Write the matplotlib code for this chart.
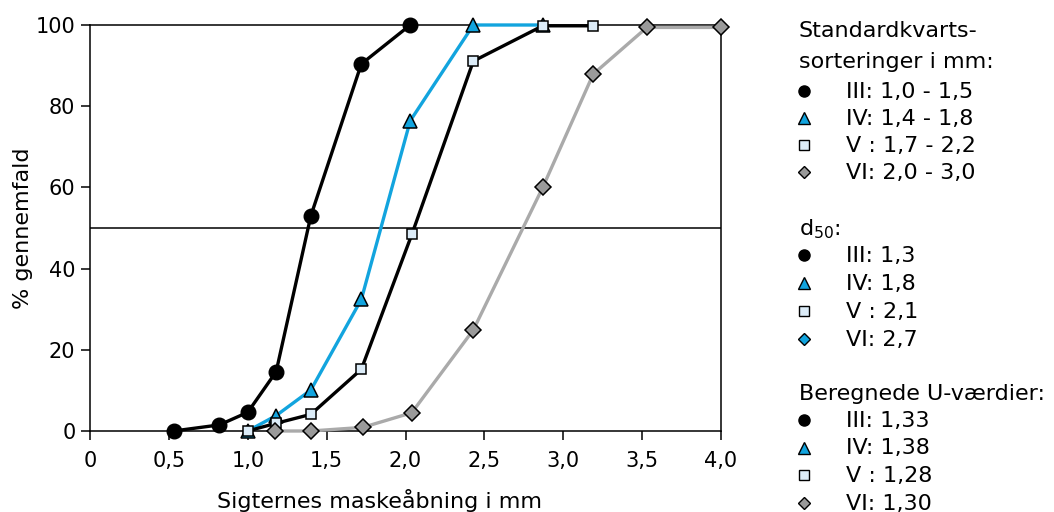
import matplotlib
matplotlib.use("Agg")
from matplotlib import pyplot as plt
from matplotlib.lines import Line2D

plt.rcParams['font.family'] = ['DejaVu Sans']
plt.rcParams['mathtext.fontset'] = 'dejavusans'

# sieve opening (mm) and % passing for each sorting
x_iii = [0.53, 0.82, 1.0, 1.18, 1.40, 1.72, 2.03]
y_iii = [0, 1.5, 4.6, 14.6, 53.0, 90.4, 100]

x_iv = [1.0, 1.18, 1.40, 1.72, 2.03, 2.43, 2.87]
y_iv = [0, 3.8, 10.1, 32.4, 76.4, 100, 100]

x_v = [1.0, 1.18, 1.40, 1.72, 2.04, 2.43, 2.87, 3.19]
y_v = [0, 1.9, 4.1, 15.2, 48.4, 91.1, 99.8, 99.8]

x_vi = [1.17, 1.40, 1.73, 2.04, 2.43, 2.87, 3.19, 3.53, 4.0]
y_vi = [0, 0, 0.9, 4.5, 24.9, 60.0, 87.9, 99.4, 99.4]

xticks = [0, 0.5, 1.0, 1.5, 2.0, 2.5, 3.0, 3.5, 4.0]
xticklabels = ['0', '0,5', '1,0', '1,5', '2,0', '2,5', '3,0', '3,5', '4,0']
yticks = [0, 20, 40, 60, 80, 100]

legend_title = ['Standardkvarts-', 'sorteringer i mm:']
legend_sort = ['III: 1,0 - 1,5', 'IV: 1,4 - 1,8', 'V : 1,7 - 2,2', 'VI: 2,0 - 3,0']
d50_labels = ['III: 1,3', 'IV: 1,8', 'V : 2,1', 'VI: 2,7']
u_labels = ['III: 1,33', 'IV: 1,38', 'V : 1,28', 'VI: 1,30']

TFS = 15     # tick labels
FS = 16      # axis labels and legend block
W, H = 1054, 512
fig = plt.figure(figsize=(W / 100, H / 100), dpi=100)
ax = fig.add_axes([90 / W, (H - 431) / H, 631 / W, 406 / H])

blue = '#12a4de'
sq_fill = '#dcecf8'
grey_fill = '#9a9a9a'

ax.axhline(50, color='black', lw=1.1, zorder=1)
ax.plot(x_iii, y_iii, color='black', lw=2.4, marker='o', ms=10.5,
        mfc='black', mec='black', clip_on=False, zorder=3)
ax.plot(x_iv, y_iv, color=blue, lw=2.4, marker='^', ms=10.5,
        mfc=blue, mec='black', mew=1.1, clip_on=False, zorder=3)
ax.plot(x_v, y_v, color='black', lw=2.4, marker='s', ms=7.8,
        mfc=sq_fill, mec='black', mew=1.1, clip_on=False, zorder=3)
ax.plot(x_vi, y_vi, color='#aaaaaa', lw=2.4, marker='D', ms=8.3,
        mfc=grey_fill, mec='black', mew=1.1, clip_on=False, zorder=3)

ax.set_xlim(0, 4.0)
ax.set_ylim(0, 100)
ax.set_xticks(xticks)
ax.set_xticklabels(xticklabels)
ax.set_yticks(yticks)
ax.tick_params(direction='out', length=6.5, width=1.1, labelsize=TFS)
ax.tick_params(axis='x', pad=8)
ax.tick_params(axis='y', pad=4)
for s in ax.spines.values():
    s.set_linewidth(1.1)

ax.set_xlabel('Sigternes maskeåbning i mm', fontsize=FS, ha='left', va='baseline')
ax.xaxis.set_label_coords((217 - 90) / 631, -(508 - 431) / 406)
ax.set_ylabel('% gennemfald', fontsize=FS, va='bottom')
ax.yaxis.set_label_coords((33 - 90) / 631, 0.5)

# right-hand legend block
def fy(py):
    return 1 - py / H

def ftext(px, py, s):
    fig.text(px / W, fy(py), s, fontsize=FS, ha='left', va='baseline')

def fmark(py, marker, fc, ms):
    fig.add_artist(Line2D([804 / W], [fy(py)], marker=marker, ms=ms,
                          mfc=fc, mec='black', mew=1.0, ls='none',
                          transform=fig.transFigure))

markers = [('o', 'black', 8), ('^', blue, 8), ('s', sq_fill, 6.5), ('D', grey_fill, 6.5)]

ftext(799, 37, legend_title[0])
ftext(799, 68, legend_title[1])
for i, lab in enumerate(legend_sort):
    b = 98 + i * 27
    ftext(846, b, lab)
    m, c, s = markers[i]
    fmark(b - 7, m, c, s)

ftext(799, 235, 'd$_{50}$:')
d50_markers = [('o', 'black', 8), ('^', blue, 8), ('s', sq_fill, 6.5), ('D', blue, 6.5)]
for i, lab in enumerate(d50_labels):
    b = 262 + i * 28
    ftext(846, b, lab)
    m, c, s = d50_markers[i]
    fmark(b - 7, m, c, s)

ftext(799, 400, 'Beregnede U-værdier:')
for i, lab in enumerate(u_labels):
    b = 427 + i * 27.5
    ftext(846, b, lab)
    m, c, s = markers[i]
    fmark(b - 7, m, c, s)

fig.savefig('out.png', dpi=100)
